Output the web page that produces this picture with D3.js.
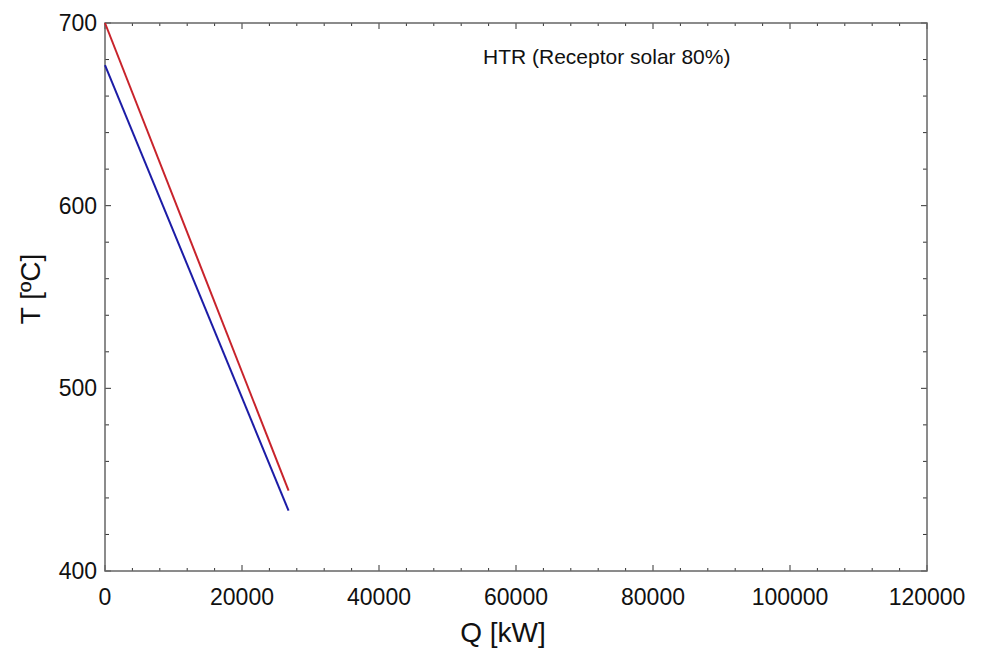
<!DOCTYPE html>
<html>
<head>
<meta charset="utf-8">
<script src="https://cdn.jsdelivr.net/npm/d3@7"></script>
<style>
  body { margin: 0; background: #fff; }
  text { font-family: "Liberation Sans", Arial, sans-serif; fill: #111; }
</style>
</head>
<body>
<div id="chart"></div>
<script>
// data
var hotQ = [0, 26800];
var hotT = [700, 444];
var coldQ = [0, 26800];
var coldT = [677, 433];
var xTicks = [0, 20000, 40000, 60000, 80000, 100000, 120000];
var yTicks = [400, 500, 600, 700];
var title = "HTR (Receptor solar 80%)";

var width = 983, height = 650;
var margin = {left: 105, right: 56, top: 23, bottom: 79};

var svg = d3.select("#chart").append("svg")
    .attr("width", width).attr("height", height);

var x = d3.scaleLinear().domain([0, 120000]).range([margin.left, width - margin.right]);
var y = d3.scaleLinear().domain([400, 700]).range([height - margin.bottom, margin.top]);

var axisColor = "#666";

// minor every 4000 / 20, inward ticks on all four sides
var xMinor = d3.range(0, 120001, 4000);
var yMinor = d3.range(400, 701, 20);

var ticks = svg.append("g").attr("stroke", "#333").attr("stroke-width", 1);
xMinor.forEach(function (v) {
  var len = xTicks.indexOf(v) >= 0 ? 6 : 3;
  ticks.append("line").attr("x1", x(v)).attr("x2", x(v))
    .attr("y1", y(400)).attr("y2", y(400) - len);
  ticks.append("line").attr("x1", x(v)).attr("x2", x(v))
    .attr("y1", y(700)).attr("y2", y(700) + len);
});
yMinor.forEach(function (v) {
  var len = yTicks.indexOf(v) >= 0 ? 6 : 4;
  ticks.append("line").attr("y1", y(v)).attr("y2", y(v))
    .attr("x1", x(0)).attr("x2", x(0) + len);
  ticks.append("line").attr("y1", y(v)).attr("y2", y(v))
    .attr("x1", x(120000)).attr("x2", x(120000) - len);
});

// frame
svg.append("rect")
  .attr("x", x(0)).attr("y", y(700))
  .attr("width", x(120000) - x(0)).attr("height", y(400) - y(700))
  .attr("fill", "none").attr("stroke", axisColor).attr("stroke-width", 1.5);

// tick labels
svg.append("g").selectAll("text").data(xTicks).enter().append("text")
  .attr("x", function (d) { return x(d); })
  .attr("y", y(400) + 34)
  .attr("text-anchor", "middle")
  .attr("font-size", 23)
  .text(function (d) { return d; });

svg.append("g").selectAll("text").data(yTicks).enter().append("text")
  .attr("x", x(0) - 8)
  .attr("y", function (d) { return y(d) + 8; })
  .attr("text-anchor", "end")
  .attr("font-size", 23)
  .text(function (d) { return d; });

// axis titles
svg.append("text")
  .attr("x", 503)
  .attr("y", 642)
  .attr("text-anchor", "middle")
  .attr("font-size", 28)
  .text("Q [kW]");

svg.append("text")
  .attr("transform", "translate(40,289) rotate(-90)")
  .attr("text-anchor", "middle")
  .attr("font-size", 28)
  .text("T [ºC]");

// annotation
svg.append("text")
  .attr("x", 483).attr("y", 64)
  .attr("font-size", 21)
  .text(title);

// lines
var line = d3.line()
  .x(function (d) { return x(d[0]); })
  .y(function (d) { return y(d[1]); });

svg.append("path")
  .datum(d3.zip(hotQ, hotT))
  .attr("d", line)
  .attr("fill", "none").attr("stroke", "#c8232b").attr("stroke-width", 2);

svg.append("path")
  .datum(d3.zip(coldQ, coldT))
  .attr("d", line)
  .attr("fill", "none").attr("stroke", "#1c1ca6").attr("stroke-width", 2);
</script>
</body>
</html>
